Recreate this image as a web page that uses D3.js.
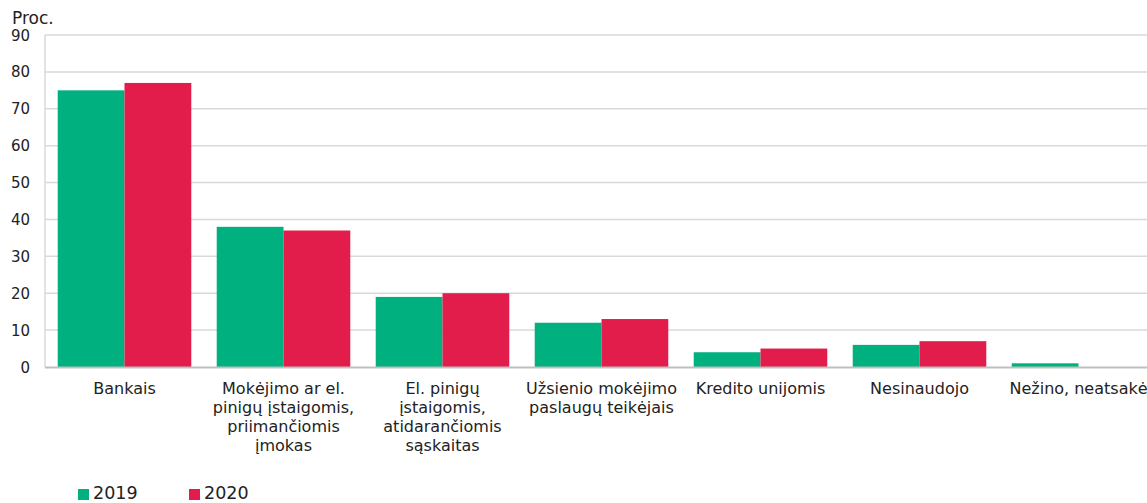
<!DOCTYPE html>
<html><head><meta charset="utf-8">
<script src="https://cdn.jsdelivr.net/npm/d3@7"></script>
<style>body{margin:0;background:#fff}svg{display:block;font-family:"DejaVu Sans",Verdana,sans-serif}</style>
</head><body><svg id="c" width="1147" height="503"></svg>
<script>
const categories = [
  ["Bankais"],
  ["Mokėjimo ar el.","pinigų įstaigomis,","priimančiomis","įmokas"],
  ["El. pinigų","įstaigomis,","atidarančiomis","sąskaitas"],
  ["Užsienio mokėjimo","paslaugų teikėjais"],
  ["Kredito unijomis"],
  ["Nesinaudojo"],
  ["Nežino, neatsakė"]
];
const series = ["2019","2020"];
const values2019 = [75,38,19,12,4,6,1];
const values2020 = [77,37,20,13,5,7,0];
const yTicks = [0,10,20,30,40,50,60,70,80,90];
const colors = ["#00b07f","#e31d4b"];

(function(){
const svg = d3.select("#c");
const pL = 45, pR = 1158, pT = 35, pB = 367;
const x0 = d3.scaleBand().domain(d3.range(categories.length)).range([pL,pR]).paddingInner(0.16).paddingOuter(0.08);
const x1 = d3.scaleBand().domain(series).range([0,x0.bandwidth()]);
const y = d3.scaleLinear().domain([0,90]).range([pB,pT]);

svg.append("g").selectAll("line").data(yTicks.filter(d=>d>0)).join("line")
  .attr("x1",pL).attr("x2",1147).attr("y1",d=>y(d)).attr("y2",d=>y(d))
  .attr("stroke","#d9d9d9").attr("stroke-width",1.5);
svg.append("line").attr("x1",pL).attr("x2",pL).attr("y1",pT).attr("y2",pB)
  .attr("stroke","#d9d9d9").attr("stroke-width",1.5);

svg.append("g").selectAll("text").data(yTicks).join("text")
  .attr("x",30).attr("y",d=>y(d)+5.5).attr("text-anchor","end")
  .attr("font-size",15).attr("fill","#222").text(d=>d);
svg.append("text").attr("x",12).attr("y",24).attr("font-size",17).attr("fill","#222").text("Proc.");

const data = categories.map((c,i)=>({i, vals:[values2019[i],values2020[i]]}));
const g = svg.append("g").selectAll("g").data(data).join("g")
  .attr("transform",d=>`translate(${x0(d.i)},0)`);
g.selectAll("rect").data(d=>d.vals.map((v,k)=>({k,v}))).join("rect")
  .attr("x",d=>x1(series[d.k])).attr("width",x1.bandwidth())
  .attr("y",d=>y(d.v)).attr("height",d=>y(0)-y(d.v))
  .attr("fill",d=>colors[d.k]);

svg.append("line").attr("x1",pL).attr("x2",1147).attr("y1",pB+0.5).attr("y2",pB+0.5)
  .attr("stroke","#bfbfbf").attr("stroke-width",2);

const lab = svg.append("g").selectAll("text").data(categories).join("text")
  .attr("text-anchor","middle").attr("font-size",16).attr("fill","#222")
  .attr("transform",(d,i)=>`translate(${x0(i)+x0.bandwidth()/2},394)`);
lab.selectAll("tspan").data(d=>d).join("tspan").attr("x",0).attr("dy",(d,j)=>j?19:0).text(d=>d);

const legX = [78,189];
series.forEach((s,k)=>{
  svg.append("rect").attr("x",legX[k]).attr("y",489).attr("width",11).attr("height",11).attr("fill",colors[k]);
  svg.append("text").attr("x",legX[k]+15).attr("y",499).attr("font-size",17.5).attr("fill","#222").text(s);
});
})();
</script></body></html>
